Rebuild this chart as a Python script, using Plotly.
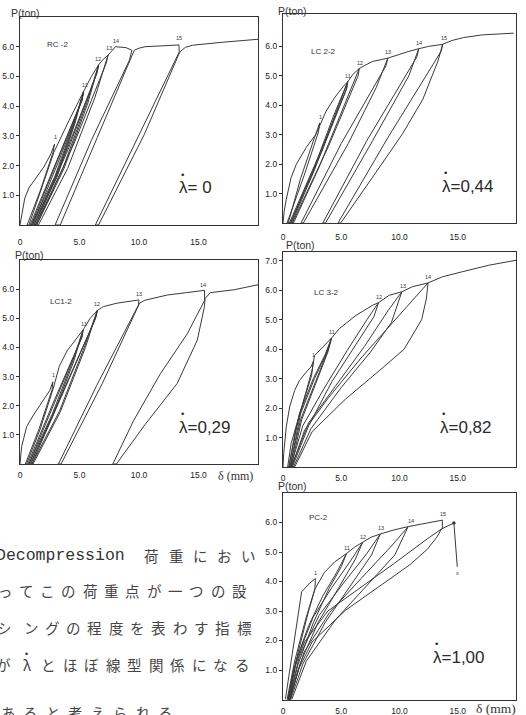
import plotly.graph_objects as go

W, H = 526, 715

# ---------------- data: delta (mm) vs P (ton) ----------------
# RC-2  (lambda* = 0)
rc2_x = [0, 0.15, 0.4, 0.75, 1.3, 2.0, 2.6, 2.9,
         2.78, 1.7, 0.6, 0.75, 1.7, 2.85, 4.1, 5.34,
         5.2, 3.0, 0.85, 0.95, 2.9, 4.5, 5.34,
         5.2, 3.1, 0.95, 1.05, 3.0, 4.55, 5.34,
         5.22, 3.2, 1.05, 1.15, 3.1, 4.6, 5.34,
         6.0, 6.61,
         6.45, 4.0, 1.2, 1.3, 3.6, 5.6, 6.61,
         6.45, 4.1, 1.3, 1.4, 3.7, 5.7, 6.61,
         7.0, 7.4,
         7.25, 4.6, 1.4, 1.55, 4.0, 6.3, 7.4,
         7.7, 8.02, 8.9, 9.4,
         9.2, 6.0, 2.95, 3.38, 6.5, 9.3, 9.6,
         10.0, 10.5, 12.0, 13.36,
         13.38, 9.9, 6.33, 6.6, 10.45, 13.35, 13.5,
         13.9, 14.5, 17.0, 20.0]
rc2_y = [0, 0.4, 0.9, 1.25, 1.55, 1.95, 2.4, 2.72,
         2.45, 1.15, 0, 0, 1.1, 2.45, 3.5, 4.49,
         4.2, 2.1, 0, 0, 1.6, 3.4, 4.49,
         4.2, 2.1, 0, 0, 1.6, 3.4, 4.49,
         4.2, 2.1, 0, 0, 1.6, 3.4, 4.49,
         5.0, 5.39,
         5.1, 2.6, 0, 0, 1.9, 4.1, 5.39,
         5.1, 2.6, 0, 0, 1.9, 4.1, 5.39,
         5.58, 5.72,
         5.45, 2.8, 0, 0, 1.9, 4.3, 5.72,
         5.85, 6.0, 5.97, 5.88,
         5.55, 2.85, 0, 0, 2.95, 5.6, 5.88,
         5.95, 6.0, 6.03, 6.06,
         5.82, 2.95, 0, 0, 3.05, 5.75, 5.85,
         5.98, 6.05, 6.15, 6.25]
rc2_lbl_x = [2.95, 5.45, 6.55, 7.45, 8.1, 13.4]
rc2_lbl_y = [2.95, 4.7, 5.6, 5.95, 6.2, 6.3]
rc2_lbl_t = ["1", "11", "12", "13", "14", "15"]

# LC 2-2  (lambda* = 0.44)
lc22_x = [0, 0.1, 0.28, 0.7, 1.15, 2.0, 2.8, 3.15,
          3.05, 1.8, 0.35, 0.45, 1.5, 2.7, 3.7, 4.42, 5.13, 5.56,
          5.45, 3.2, 0.55, 0.65, 2.6, 4.4, 5.56,
          5.45, 3.3, 0.65, 0.75, 2.7, 4.5, 5.56,
          6.0, 6.55,
          6.45, 3.9, 0.8, 0.9, 3.1, 5.3, 6.55,
          7.0, 7.7, 8.55, 9.0,
          8.85, 5.0, 1.55, 1.75, 5.6, 8.0, 9.0,
          9.7, 10.8, 11.65,
          11.5, 7.2, 3.42, 3.65, 7.7, 10.8, 11.65,
          12.5, 13.7,
          13.6, 9.0, 4.72, 4.95, 7.7, 10.26, 12.0, 13.3, 13.7,
          14.5, 15.5, 17.1, 19.8]
lc22_y = [0, 0.4, 0.8, 1.55, 2.0, 2.57, 3.0, 3.4,
          3.1, 1.6, 0, 0, 1.5, 2.9, 3.8, 4.25, 4.62, 4.8,
          4.55, 2.4, 0, 0, 1.8, 3.7, 4.8,
          4.55, 2.4, 0, 0, 1.8, 3.7, 4.8,
          5.05, 5.25,
          5.0, 2.6, 0, 0, 1.9, 4.0, 5.25,
          5.35, 5.49, 5.56, 5.6,
          5.35, 2.7, 0, 0, 2.7, 4.6, 5.6,
          5.7, 5.83, 5.92,
          5.65, 2.8, 0, 0, 2.8, 5.0, 5.92,
          6.0, 6.07,
          5.85, 2.9, 0, 0, 1.56, 3.03, 4.2, 5.5, 6.07,
          6.2, 6.3, 6.39, 6.45]
lc22_lbl_x = [3.2, 5.6, 6.6, 9.05, 11.7, 13.8]
lc22_lbl_y = [3.6, 5.0, 5.45, 5.8, 6.12, 6.28]
lc22_lbl_t = ["1", "11", "12", "13", "14", "15"]

# LC1-2  (lambda* = 0.29)
lc12_x = [0, 0.05, 0.14, 0.56, 1.13, 1.97, 2.5, 2.76,
          2.7, 1.6, 0.45, 0.55, 1.7, 2.8, 3.3, 3.95, 4.75, 5.3,
          5.2, 2.9, 0.65, 0.75, 2.7, 4.4, 5.3,
          5.2, 3.0, 0.75, 0.85, 2.8, 4.5, 5.3,
          5.9, 6.5,
          6.35, 3.6, 0.9, 1.0, 3.3, 5.4, 6.5,
          6.35, 3.7, 1.0, 1.1, 3.4, 5.5, 6.5,
          7.0, 8.16, 9.5, 10.0,
          9.95, 6.45, 3.23, 3.45, 6.9, 9.85, 10.05,
          10.5, 12.4, 14.0, 15.5,
          15.52, 14.06, 11.8, 9.56, 7.8, 8.1, 10.5, 13.2, 14.9, 15.5, 15.55,
          16.0, 18.0, 20.0]
lc12_y = [0, 0.3, 0.6, 1.28, 1.68, 2.2, 2.52, 2.82,
          2.55, 1.2, 0, 0, 1.2, 2.6, 3.35, 3.88, 4.3, 4.6,
          4.35, 2.2, 0, 0, 1.7, 3.5, 4.6,
          4.35, 2.2, 0, 0, 1.7, 3.5, 4.6,
          5.0, 5.27,
          5.0, 2.5, 0, 0, 1.8, 4.0, 5.27,
          5.0, 2.5, 0, 0, 1.8, 4.0, 5.27,
          5.4, 5.52, 5.6, 5.63,
          5.45, 2.7, 0, 0, 2.75, 5.35, 5.52,
          5.62, 5.8, 5.88, 5.96,
          5.62, 4.47, 3.1, 1.5, 0, 0, 1.35, 2.76, 4.25, 5.4, 5.68,
          5.88, 5.98, 6.15]
lc12_lbl_x = [2.8, 5.35, 6.5, 10.0, 15.4]
lc12_lbl_y = [3.05, 4.8, 5.48, 5.85, 6.15]
lc12_lbl_t = ["1", "11", "12", "13", "14"]

# LC 3-2  (lambda* = 0.82)
lc32_x = [0, 0.06, 0.28, 0.57, 1.0, 1.42, 1.99, 2.4, 2.62,
          2.45, 1.5, 0.7, 0.4, 0.5, 1.1, 1.9, 2.5, 2.7, 3.42, 4.17,
          3.6, 2.6, 1.4, 0.5, 0.6, 1.5, 2.8, 3.8, 4.17,
          3.65, 2.7, 1.5, 0.6, 0.7, 1.6, 2.9, 3.85, 4.17,
          4.84, 6.27, 7.69, 8.2,
          7.2, 5.5, 3.5, 1.7, 0.65, 0.8, 2.2, 4.2, 6.3, 7.8, 8.2,
          9.12, 10.2,
          9.0, 7.0, 4.5, 2.2, 0.7, 0.9, 2.4, 5.0, 7.5, 9.3, 10.2,
          11.1, 12.45,
          11.0, 9.3, 6.7, 3.9, 1.85, 0.75, 1.0, 2.5, 5.35, 8.5, 10.4, 11.9, 12.3, 12.45,
          13.7, 15.4, 17.66, 20.0]
lc32_y = [0, 0.45, 1.36, 2.04, 2.6, 2.94, 3.22, 3.4, 3.6,
          3.1, 1.9, 0.8, 0, 0, 1.3, 2.5, 3.3, 3.78, 4.08, 4.38,
          3.8, 3.0, 1.8, 0, 0, 1.6, 2.9, 3.9, 4.38,
          3.8, 3.0, 1.8, 0, 0, 1.6, 2.9, 3.9, 4.38,
          4.7, 5.15, 5.49, 5.58,
          5.0, 3.95, 2.65, 1.4, 0, 0, 1.4, 2.9, 4.2, 5.1, 5.58,
          5.83, 5.95,
          5.3, 4.1, 2.75, 1.5, 0, 0, 1.3, 2.7, 3.9, 4.9, 5.95,
          6.12, 6.25,
          5.6, 4.85, 3.7, 2.35, 1.25, 0, 0, 1.2, 2.3, 3.35, 4.0, 5.0, 5.7, 6.25,
          6.46, 6.63, 6.85, 7.02]
lc32_lbl_x = [2.6, 4.2, 8.25, 10.3, 12.45]
lc32_lbl_y = [3.8, 4.6, 5.78, 6.15, 6.45]
lc32_lbl_t = ["1", "11", "12", "13", "14"]

# PC-2  (lambda* = 1.00)
pc2_x = [0.2, 0.9, 1.6, 2.3, 2.78,
         2.74, 2.0, 1.0, 0.35, 0.5, 1.3, 2.2, 2.75, 3.56, 4.42, 5.45,
         4.6, 3.4, 2.2, 1.1, 0.4, 0.55, 1.3, 2.6, 4.0, 5.0, 5.45,
         6.13, 6.84,
         5.8, 4.2, 2.6, 1.2, 0.45, 0.6, 1.5, 3.0, 4.8, 6.2, 6.84,
         7.55, 8.35,
         7.2, 5.2, 3.1, 1.4, 0.5, 0.65, 1.7, 3.6, 5.8, 7.6, 8.35,
         9.54, 10.74,
         9.3, 6.7, 4.0, 1.8, 0.55, 0.75, 2.0, 4.5, 7.3, 9.6, 10.74,
         12.1, 13.68,
         13.68, 12.4, 9.5, 6.7, 3.85, 1.85, 0.9, 0.45, 0.6, 1.3, 2.5, 5.35, 8.2, 10.9, 12.4, 13.2, 13.6,
         14.1, 14.67, 14.96]
pc2_y = [0, 1.85, 3.65, 3.95, 4.1,
         3.75, 2.8, 1.3, 0, 0, 1.6, 3.0, 3.75, 4.31, 4.66, 4.95,
         4.3, 3.5, 2.5, 1.3, 0, 0, 1.2, 2.6, 3.8, 4.5, 4.95,
         5.16, 5.33,
         4.7, 3.8, 2.8, 1.4, 0, 0, 1.25, 2.6, 3.8, 4.75, 5.33,
         5.5, 5.61,
         4.95, 3.95, 2.85, 1.45, 0, 0, 1.2, 2.6, 3.85, 4.9, 5.61,
         5.75, 5.86,
         5.2, 4.1, 2.95, 1.6, 0, 0, 1.3, 2.7, 3.9, 4.9, 5.86,
         5.95, 6.08,
         5.8, 5.45, 4.6, 3.8, 3.0, 1.95, 1.0, 0, 0, 1.0, 1.95, 3.02, 3.81, 4.57, 5.1, 5.5, 5.78,
         5.88, 5.98, 4.5]
pc2_end_x = [14.67]
pc2_end_y = [5.98]
pc2_lbl_x = [2.8, 5.5, 6.9, 8.45, 11.0, 13.7, 15.0]
pc2_lbl_y = [4.3, 5.15, 5.5, 5.8, 6.05, 6.28, 4.3]
pc2_lbl_t = ["1", "11", "12", "13", "14", "15", "x"]

x_tick_vals = [0, 5, 10, 15]
x_tick_text = ["0", "5.0", "10.0", "15.0"]
y_tick_vals = [1, 2, 3, 4, 5, 6]
y_tick_text = ["1.0", "2.0", "3.0", "4.0", "5.0", "6.0"]
y_tick_vals7 = [1, 2, 3, 4, 5, 6, 7]
y_tick_text7 = ["1.0", "2.0", "3.0", "4.0", "5.0", "6.0", "7.0"]

specimen_names = ["RC -2", "LC 2-2", "LC1-2", "LC 3-2", "PC-2"]
lambda_texts = ["λ= 0", "λ=0,44", "λ=0,29", "λ=0,82", "λ=1,00"]

text_lines = ["荷重におい", "ってこの荷重点が一つの設", "シングの程度を表わす指標",
              "がλとほぼ線型関係になる", "あると考えられる"]

# ---------------- layout helpers ----------------
INK = "#333333"
SANS = "Liberation Sans, Arial, sans-serif"


def px(xp):
    return xp / W


def py(yp):
    return 1 - yp / H


def note(xp, yp, text, font, xanchor="center", yanchor="middle"):
    return dict(x=px(xp), y=py(yp), xref="paper", yref="paper", text=text,
                showarrow=False, xanchor=xanchor, yanchor=yanchor, font=font)


panels = [
    dict(x=rc2_x, y=rc2_y, lx=rc2_lbl_x, ly=rc2_lbl_y, lt=rc2_lbl_t,
         box=(20, 258, 17, 225), ymax=7.0, yt7=False, so=9,
         name_xy=(57, 45), plab=(25, 13), lam=(177, 188)),
    dict(x=lc22_x, y=lc22_y, lx=lc22_lbl_x, ly=lc22_lbl_y, lt=lc22_lbl_t,
         box=(283, 516, 14, 223), ymax=7.1, yt7=False, so=6,
         name_xy=(323, 51), plab=(292, 11), lam=(440, 187)),
    dict(x=lc12_x, y=lc12_y, lx=lc12_lbl_x, ly=lc12_lbl_y, lt=lc12_lbl_t,
         box=(20, 258, 260, 464), ymax=7.0, yt7=False, so=3,
         name_xy=(61, 302), plab=(29, 255), lam=(177, 427)),
    dict(x=lc32_x, y=lc32_y, lx=lc32_lbl_x, ly=lc32_lbl_y, lt=lc32_lbl_t,
         box=(283, 516, 252, 467), ymax=7.3, yt7=True, so=3,
         name_xy=(326, 293), plab=(300, 245), lam=(438, 427)),
    dict(x=pc2_x, y=pc2_y, lx=pc2_lbl_x, ly=pc2_lbl_y, lt=pc2_lbl_t,
         box=(283, 516, 493, 699.5), ymax=7.0, yt7=False, so=3,
         name_xy=(318, 517), plab=(292, 486), lam=(431, 657)),
]

fig = go.Figure()
annotations = []
layout = dict(template="none", width=W, height=H, margin=dict(l=0, r=0, t=0, b=0, pad=0),
              paper_bgcolor="white", plot_bgcolor="white", showlegend=False)

for i, p in enumerate(panels, start=1):
    xs = "" if i == 1 else str(i)
    xref, yref = "x" + xs, "y" + xs
    l, r, t, b = p["box"]
    fig.add_trace(go.Scatter(x=p["x"], y=p["y"], mode="lines",
                             line=dict(color="#3a3a3a", width=1),
                             xaxis=xref, yaxis=yref, hoverinfo="skip"))
    layout["xaxis" + xs] = dict(
        domain=[px(l), px(r)], range=[0, 20], anchor=yref, automargin=False,
        showgrid=False, zeroline=False, showline=True, mirror=True,
        linecolor=INK, linewidth=1.2, ticks="", tickmode="array",
        tickvals=x_tick_vals, ticktext=x_tick_text,
        tickfont=dict(family=SANS, size=8.5, color="#222"),
        ticklabelstandoff=p["so"])
    layout["yaxis" + xs] = dict(
        domain=[py(b), py(t)], range=[0, p["ymax"]], anchor=xref, automargin=False,
        showgrid=False, zeroline=False, showline=True, mirror=True,
        linecolor=INK, linewidth=1.2, ticks="outside", ticklen=3,
        tickcolor=INK, tickmode="array",
        tickvals=y_tick_vals7 if p["yt7"] else y_tick_vals,
        ticktext=y_tick_text7 if p["yt7"] else y_tick_text,
        tickfont=dict(family=SANS, size=8.5, color="#222"))
    # cycle numbers
    for xv, yv, tv in zip(p["lx"], p["ly"], p["lt"]):
        annotations.append(dict(x=xv, y=yv, xref=xref, yref=yref, text=tv,
                                xanchor="center", yanchor="middle",
                                showarrow=False, font=dict(family=SANS, size=5.5, color=INK)))
    # specimen name
    nx, ny = p["name_xy"]
    annotations.append(note(nx, ny, specimen_names[i - 1],
                            dict(family=SANS, size=8, color=INK)))
    # P(ton)
    qx, qy = p["plab"]
    annotations.append(note(qx, qy, "P(ton)", dict(family=SANS, size=10.5, color=INK)))
    # lambda* = value
    ax_, ay_ = p["lam"]
    annotations.append(note(ax_, ay_, lambda_texts[i - 1],
                            dict(family=SANS, size=17, color="#2a2a2a"), xanchor="left"))
    annotations.append(note(ax_ + 5, ay_ - 14, "•", dict(family=SANS, size=9.5, color="#2a2a2a")))

fig.add_trace(go.Scatter(x=pc2_end_x, y=pc2_end_y, mode="markers",
                         marker=dict(color="#3a3a3a", size=3.5),
                         xaxis="x5", yaxis="y5", hoverinfo="skip"))

# delta (mm) axis titles
for (cx, cy, fs) in [(235, 476, 12), (496, 708, 13.5)]:
    annotations.append(note(cx, cy, "δ (mm)",
                            dict(family="Liberation Serif, serif", size=fs, color=INK)))

# running text at lower left
annotations.append(note(-6, 555, "Decompression",
                        dict(family="Liberation Mono, monospace", size=16.5, color="#333"),
                        xanchor="left"))
line_specs = [
    (555, [152 + 24 * k for k in range(5)]),
    (590, [5 + 21.3 * k for k in range(12)]),
    (627, [4] + [31 + 21.3 * k for k in range(11)]),
    (664, [3] + [27 + 21.5 * k for k in range(11)]),
    (712, [8 + 22.5 * k for k in range(8)]),
]
CJK = "Noto Sans CJK JP, sans-serif"
for text, (ly_, xs_) in zip(text_lines, line_specs):
    for ch, xc in zip(text, xs_):
        annotations.append(note(xc, ly_, ch, dict(family=CJK, size=14.5, color="#444")))
# asterisk-dot over the lambda in the running text
annotations.append(note(26, 654, "•", dict(family=SANS, size=9, color="#333")))

layout["annotations"] = annotations
fig.update_layout(**layout)
fig.write_html("out.html", config={"displayModeBar": False},
               post_script="document.body.style.margin='0';document.body.style.overflow='hidden';")
